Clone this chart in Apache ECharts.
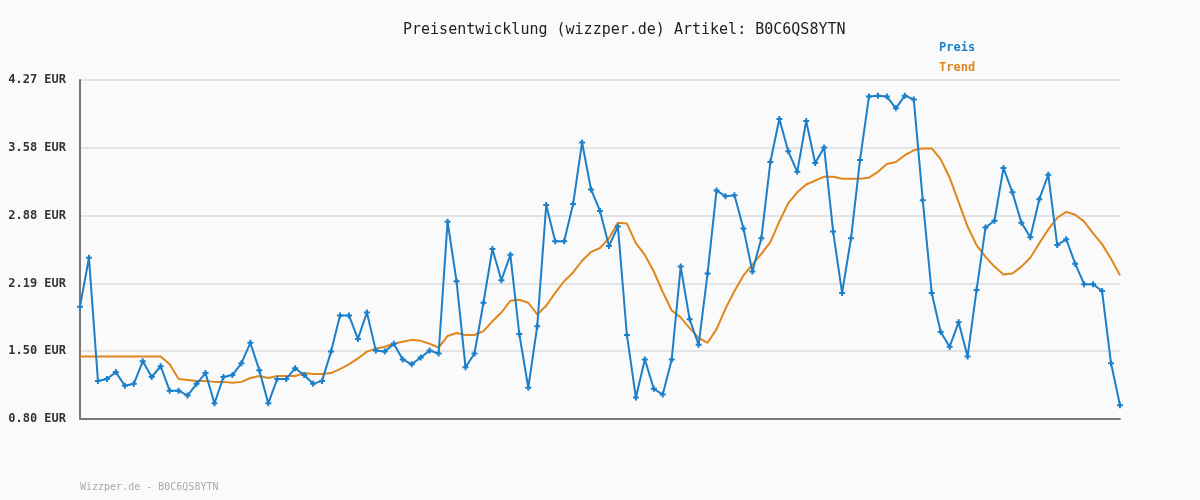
<!DOCTYPE html>
<html>
<head>
<meta charset="utf-8">
<script src="https://cdn.jsdelivr.net/npm/echarts@6/dist/echarts.min.js"></script>
<style>
html,body{margin:0;padding:0;background:#fafafa;}
#chart{width:1200px;height:500px;}
</style>
</head>
<body>
<div id="chart"></div>
<script>
const titleText = 'Preisentwicklung (wizzper.de) Artikel: B0C6QS8YTN';
const footerText = 'Wizzper.de - B0C6QS8YTN';
const yTickLabels = ['0.80 EUR', '1.50 EUR', '2.19 EUR', '2.88 EUR', '3.58 EUR', '4.27 EUR'];

const preis = [
  1.95, 2.45, 1.19, 1.21, 1.28, 1.14, 1.16, 1.39, 1.23, 1.34,
  1.09, 1.09, 1.04, 1.16, 1.27, 0.96, 1.23, 1.25, 1.37, 1.58,
  1.30, 0.96, 1.21, 1.21, 1.32, 1.25, 1.16, 1.19, 1.49, 1.86,
  1.86, 1.62, 1.89, 1.50, 1.49, 1.57, 1.41, 1.36, 1.43, 1.50,
  1.47, 2.82, 2.21, 1.33, 1.47, 1.99, 2.54, 2.22, 2.48, 1.67,
  1.12, 1.75, 2.99, 2.62, 2.62, 3.00, 3.63, 3.15, 2.93, 2.57,
  2.77, 1.66, 1.02, 1.41, 1.11, 1.05, 1.41, 2.36, 1.82, 1.56,
  2.29, 3.14, 3.08, 3.09, 2.75, 2.31, 2.65, 3.43, 3.87, 3.54,
  3.33, 3.85, 3.42, 3.58, 2.72, 2.09, 2.65, 3.45, 4.10, 4.11,
  4.10, 3.98, 4.11, 4.07, 3.04, 2.09, 1.69, 1.54, 1.79, 1.44,
  2.12, 2.76, 2.83, 3.37, 3.12, 2.81, 2.66, 3.05, 3.30, 2.58,
  2.64, 2.39, 2.18, 2.18, 2.11, 1.37, 0.94
];

const trend = [
  1.44, 1.44, 1.44, 1.44, 1.44, 1.44, 1.44, 1.44, 1.44, 1.44,
  1.36, 1.21, 1.20, 1.19, 1.19, 1.18, 1.18, 1.17, 1.18, 1.22,
  1.24, 1.22, 1.24, 1.24, 1.24, 1.27, 1.26, 1.26, 1.27, 1.31,
  1.36, 1.42, 1.49, 1.52, 1.54, 1.57, 1.59, 1.61, 1.60, 1.57,
  1.53, 1.65, 1.68, 1.66, 1.66, 1.70, 1.80, 1.89, 2.01, 2.02,
  1.99, 1.87, 1.96, 2.09, 2.21, 2.30, 2.42, 2.51, 2.55, 2.65,
  2.81, 2.80, 2.60, 2.48, 2.31, 2.10, 1.91, 1.84, 1.73, 1.63,
  1.58, 1.72, 1.93, 2.11, 2.27, 2.38, 2.49, 2.61, 2.82, 3.01,
  3.12, 3.20, 3.24, 3.28, 3.28, 3.26, 3.26, 3.26, 3.27, 3.33,
  3.41, 3.43, 3.50, 3.55, 3.57, 3.57, 3.46, 3.27, 3.02, 2.77,
  2.58, 2.46, 2.36, 2.28, 2.29, 2.36, 2.45, 2.60, 2.74, 2.86,
  2.92, 2.89, 2.82, 2.70, 2.59, 2.44, 2.27
];

const categories = preis.map((_, i) => String(i + 1));

const yMin = 0.8, yMax = 4.27, yStep = 0.694;
const mono = '"DejaVu Sans Mono", "Liberation Mono", monospace';
const blue = '#1b7fc9';
const orange = '#e0861c';

const chart = echarts.init(document.getElementById('chart'), null, {renderer: 'canvas'});
chart.setOption({
  backgroundColor: '#fafafa',
  animation: false,
  title: {
    text: titleText,
    left: 398,
    top: 18,
    textStyle: {fontFamily: mono, fontSize: 15, fontWeight: 'normal', color: '#222'}
  },
  legend: {
    orient: 'vertical',
    left: 929,
    top: 37,
    itemGap: 8,
    itemWidth: 0,
    itemHeight: 0,
    icon: 'none',
    data: [
      {name: 'Preis', textStyle: {color: blue}},
      {name: 'Trend', textStyle: {color: orange}}
    ],
    textStyle: {fontFamily: mono, fontSize: 12, fontWeight: 'bold'}
  },
  graphic: [{
    type: 'text',
    left: 80,
    top: 482,
    style: {text: footerText, fill: '#aaa', font: '10px ' + mono}
  }],
  grid: {left: 80, right: 80, top: 80, bottom: 81, containLabel: false},
  xAxis: {
    type: 'category',
    data: categories,
    boundaryGap: false,
    axisLine: {lineStyle: {color: '#777', width: 2}},
    axisTick: {show: false},
    axisLabel: {show: false},
    splitLine: {show: false}
  },
  yAxis: {
    type: 'value',
    min: yMin,
    max: yMax,
    interval: yStep,
    axisLine: {show: true, lineStyle: {color: '#777', width: 2}},
    axisTick: {show: false},
    axisLabel: {
      fontFamily: mono, fontSize: 12, fontWeight: 'bold', color: '#333', margin: 14,
      formatter: v => yTickLabels[Math.round((v - yMin) / yStep)] || ''
    },
    splitLine: {lineStyle: {color: '#e3e3e3', width: 2}}
  },
  series: [
    {
      name: 'Preis',
      type: 'line',
      data: preis,
      color: blue,
      lineStyle: {width: 2, color: blue},
      showSymbol: true,
      showAllSymbol: true,
      symbol: 'path://M2,0H4V2H6V4H4V6H2V4H0V2H2Z',
      symbolSize: 6,
      itemStyle: {color: blue},
      z: 3
    },
    {
      name: 'Trend',
      type: 'line',
      data: trend,
      color: orange,
      lineStyle: {width: 2, color: orange},
      showSymbol: false,
      symbol: 'none',
      z: 2
    }
  ]
});
</script>
</body>
</html>
